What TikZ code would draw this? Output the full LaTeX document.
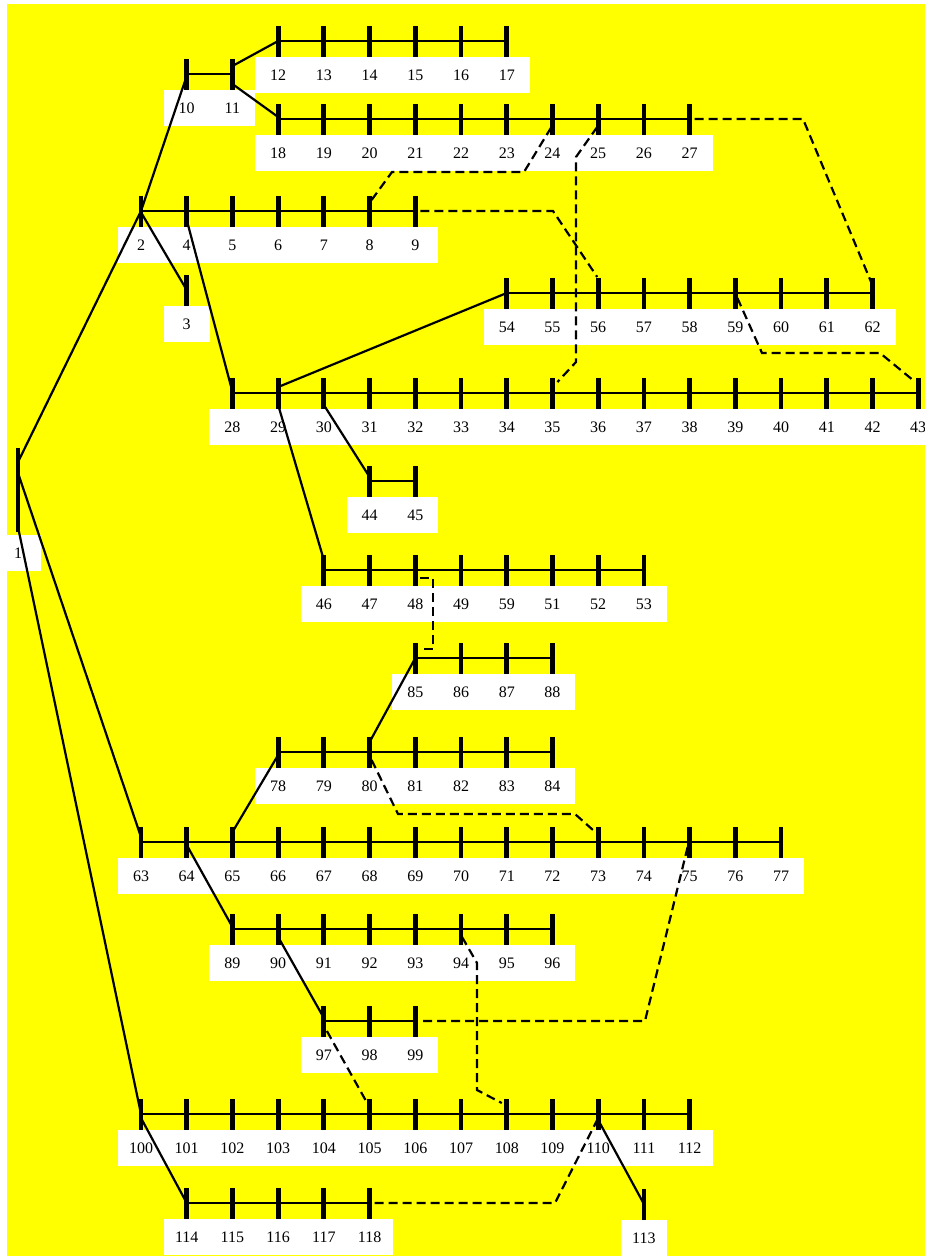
\documentclass[tikz,border=0pt]{standalone}
\usepackage{fontspec}
\setmainfont{Liberation Serif}
\usetikzlibrary{calc}
\definecolor{bgyellow}{RGB}{255,255,0}
\pgfdeclarelayer{labels}
\pgfdeclarelayer{wires}
\pgfsetlayers{labels,wires,main}
\tikzset{
  bus/.style={rectangle, fill=black, inner sep=0pt, minimum width=4.8pt, minimum height=31pt},
  lbl/.style={rectangle, fill=white, inner sep=0pt, minimum width=46pt, minimum height=36pt, font=\fontsize{16}{19}\selectfont},
  busline/.style={line width=2.6pt},
  feeder/.style={line width=2.2pt},
  tie/.style={line width=2.2pt, dash pattern=on 9pt off 5pt},
}
\newcommand\busrow[3]{%
  \foreach \n/\lab [count=\i from 0] in {#3} {
    \node[bus] (b\n) at ({141+45.72*(#1+\i)}, {#2}) {};
    \begin{pgfonlayer}{labels}
      \node[lbl] (l\n) at ({141+45.72*(#1+\i)}, {#2+34}) {\lab};
    \end{pgfonlayer}
  }
}
\begin{document}
\begin{tikzpicture}[x=1pt,y=-1pt]
\useasboundingbox (0,0) rectangle (925,1256);
\begin{pgfonlayer}{labels}
\fill[bgyellow] (7,4) rectangle (925,1256);
\node[lbl, minimum width=34pt] (l1) at (24,553) {\makebox[20pt][l]{1}};
\end{pgfonlayer}
\node[bus, minimum height=84pt] (b1) at (18,490) {};

\busrow{3}{41}{12,13,14,15,16,17}
\busrow{1}{74}{10,11}
\busrow{3}{119}{18,19,20,21,22,23,24,25,26,27}
\busrow{0}{211}{2,4,5,6,7,8,9}
\busrow{1}{290}{3}
\busrow{8}{293}{54,55,56,57,58,59,60,61,62}
\busrow{2}{393}{28,29,30,31,32,33,34,35,36,37,38,39,40,41,42,43}
\busrow{5}{481}{44,45}
\busrow{4}{570}{46,47,48,49,50/59,51,52,53}
\busrow{6}{658}{85,86,87,88}
\busrow{3}{752}{78,79,80,81,82,83,84}
\busrow{0}{842}{63,64,65,66,67,68,69,70,71,72,73,74,75,76,77}
\busrow{2}{929}{89,90,91,92,93,94,95,96}
\busrow{4}{1021}{97,98,99}
\busrow{0}{1114}{100,101,102,103,104,105,106,107,108,109,110,111,112}
\busrow{1}{1203}{114,115,116,117,118}
\busrow{11}{1204}{113}

\begin{pgfonlayer}{wires}
% bus bars
\draw[busline] (b12.center) -- (b17.center);
\draw[busline] (b10.center) -- (b11.center);
\draw[busline] (b18.center) -- (b27.center);
\draw[busline] (b2.center) -- (b9.center);
\draw[busline] (b54.center) -- (b62.center);
\draw[busline] (b28.center) -- (b43.center);
\draw[busline] (b44.center) -- (b45.center);
\draw[busline] (b46.center) -- (b53.center);
\draw[busline] (b85.center) -- (b88.center);
\draw[busline] (b78.center) -- (b84.center);
\draw[busline] (b63.center) -- (b77.center);
\draw[busline] (b89.center) -- (b96.center);
\draw[busline] (b97.center) -- (b99.center);
\draw[busline] (b100.center) -- (b112.center);
\draw[busline] (b114.center) -- (b118.center);
% feeders
\draw[feeder] ($(b1)+(0,-28)$) -- (b2.center);
\draw[feeder] ($(b2)+(1,-3)$) -- ($(b10)+(0,2)$);
\draw[feeder] ($(b2)+(1,3)$) -- (b3.center);
\draw[feeder] ($(b4)+(0,9)$) -- ($(b28)+(-1,-5)$);
\draw[feeder] ($(b11)+(0,-8)$) -- (b12.center);
\draw[feeder] ($(b11)+(0,10)$) -- ($(b18)+(0,-2)$);
\draw[feeder] ($(b29)+(0,-6)$) -- (b54.center);
\draw[feeder] ($(b29)+(0,12)$) -- ($(b46)+(0,-10)$);
\draw[feeder] ($(b30)+(0,12)$) -- ($(b44)+(0,-4)$);
\draw[feeder] ($(b1)+(0,-17)$) -- ($(b63)+(0,-5)$);
\draw[feeder] ($(b1)+(0,37)$) -- (b100.center);
\draw[feeder] ($(b64)+(0,3)$) -- ($(b89)+(0,-2)$);
\draw[feeder] ($(b65)+(0,-10)$) -- ($(b78)+(0,3)$);
\draw[feeder] ($(b80)+(0,-10)$) -- (b85.center);
\draw[feeder] ($(b90)+(0,8)$) -- ($(b97)+(0,-3)$);
\draw[feeder] ($(b100)+(0,4)$) -- (b114.center);
\draw[feeder] ($(b110)+(0,6)$) -- (b113.center);
% tie lines
\draw[tie] ($(b8)+(2,-11)$) -- (392,172) -- (524,172) -- ($(b24)+(-1,8)$);
\draw[tie] ($(b9)+(5,0)$) -- (553,211) -- ($(b56)+(-1,-16)$);
\draw[tie] ($(b25)+(-1,8)$) -- (576,157) -- (576,362) -- ($(b35)+(5,-11)$);
\draw[tie] ($(b27)+(5,0)$) -- (803,119) -- ($(b62)+(-1,-10)$);
\draw[tie] ($(b59)+(2,5)$) -- (762,353) -- (880,353) -- ($(b43)+(-3,-11)$);
\draw[tie] ($(b48)+(5,8)$) -- (433,578) -- (433,649) -- ($(b85)+(5,-9)$);
\draw[tie] ($(b80)+(2,8)$) -- (398,814) -- (575,814) -- ($(b73)+(-3,-10)$);
\draw[tie] ($(b75)+(-2,5)$) -- (645,1021) -- ($(b99)+(5,0)$);
\draw[tie] ($(b94)+(1,8)$) -- (477,963) -- (477,1090) -- ($(b108)+(-5,-11)$);
\draw[tie] ($(b97)+(3,10)$) -- ($(b105)+(-3,-12)$);
\draw[tie] ($(b118)+(5,0)$) -- (555,1203) -- ($(b110)+(-1,6)$);
\end{pgfonlayer}
\end{tikzpicture}
\end{document}
